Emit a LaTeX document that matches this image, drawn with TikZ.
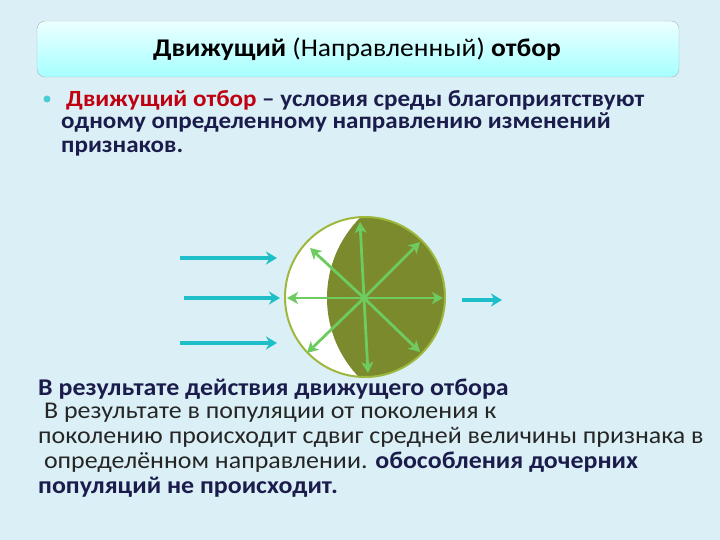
\documentclass[tikz,border=0pt]{standalone}
\usepackage{fontspec}
\setmainfont{Carlito}
\usetikzlibrary{arrows.meta}
\definecolor{bgc}{HTML}{DAF0F6}
\definecolor{navy}{HTML}{1C1C4C}
\definecolor{redc}{HTML}{C00010}
\definecolor{graytext}{HTML}{262626}
\definecolor{cyanarrow}{HTML}{1EBFC8}
\definecolor{olive}{HTML}{7A8A2C}
\definecolor{rim}{HTML}{9DB83C}
\definecolor{garrow}{HTML}{6ECB60}
\newcommand{\wide}[1]{\scalebox{1.08}[1]{#1}}
\tikzset{
  txt/.style={anchor=base west, inner sep=0pt},
  bfont/.style={font=\bfseries\fontsize{23.2}{26}\selectfont},
  rfont/.style={font=\fontsize{24}{26}\selectfont},
  rbfont/.style={font=\bfseries\fontsize{24}{26}\selectfont},
  cyarr/.style={draw=cyanarrow, line width=3.5pt, -{Stealth[length=11pt,width=13pt,inset=3.5pt]}},
  grarr/.style={draw=garrow, line width=2.8pt, -{Stealth[length=11pt,width=12pt,inset=3pt]}}
}
\begin{document}
\begin{tikzpicture}[x=1pt,y=-1pt]
\useasboundingbox (0,0) rectangle (720,540);
\fill[bgc] (0,0) rectangle (720,540);
% title box
\shade[top color=white!50!cyan!15, bottom color=cyan!35, rounded corners=8pt]
  (37,21) rectangle (679,77);
\draw[gray!60, rounded corners=8pt] (37,21) rectangle (679,77);
\node[anchor=base, inner sep=0pt, font=\fontsize{25.5}{28}\selectfont] (title) at (357,57)
  {\wide{\textbf{Движущий} (Направленный) \textbf{отбор}}};
% bullet
\fill[cyanarrow!80] (47,99) circle (3.5pt);
\node[txt, text=navy, bfont] (b1) at (66,107)
  {\wide{\textcolor{redc}{Движущий отбор} – условия среды благоприятствуют}};
\node[txt, text=navy, bfont] (b2) at (61,129)
  {\wide{одному определенному направлению изменений}};
\node[txt, text=navy, bfont] (b3) at (61,153)
  {\wide{признаков.}};
% diagram
\coordinate (c) at (364,298);
\begin{scope}
  \clip (365,297) circle (80);
  \fill[white] (365,297) circle (80);
  \fill[olive] (441,298) circle (114);
\end{scope}
\draw[rim, line width=2pt] (365,297) circle (80);
\coordinate (tu) at (360,222);
\coordinate (tur) at (420,242);
\coordinate (tr) at (443,298);
\coordinate (tdr) at (420,352);
\coordinate (td) at (368,373);
\coordinate (tdl) at (307,353);
\coordinate (tl) at (287,298);
\coordinate (tul) at (310,248);
\foreach \t in {tu,tur,tr,tdr,td,tdl,tl,tul} \draw[grarr] (c) -- (\t);
% cyan arrows
\coordinate (a1s) at (180,258); \coordinate (a1e) at (277,258);
\coordinate (a2s) at (184,298); \coordinate (a2e) at (280,298);
\coordinate (a3s) at (180,343); \coordinate (a3e) at (277,343);
\coordinate (a4s) at (462,300); \coordinate (a4e) at (502,300);
\draw[cyarr] (a1s) -- (a1e);
\draw[cyarr] (a2s) -- (a2e);
\draw[cyarr] (a3s) -- (a3e);
\draw[cyarr] (a4s) -- (a4e);
% bottom text
\node[txt, text=navy, rbfont] (r1) at (38,395)
  {\wide{В результате действия движущего отбора}};
\node[txt, text=graytext, rfont] (r2) at (38,418)
  {\wide{\ В результате в популяции от поколения к}};
\node[txt, text=graytext, rfont] (r3) at (38,443)
  {\wide{поколению происходит сдвиг средней величины признака в}};
\node[txt, text=graytext, rfont] (r4) at (38,468)
  {\wide{\ определённом направлении. \textcolor{navy}{\bfseries обособления дочерних}}};
\node[txt, text=navy, rbfont] (r5) at (38,493)
  {\wide{популяций не происходит.}};
\end{tikzpicture}
\end{document}
